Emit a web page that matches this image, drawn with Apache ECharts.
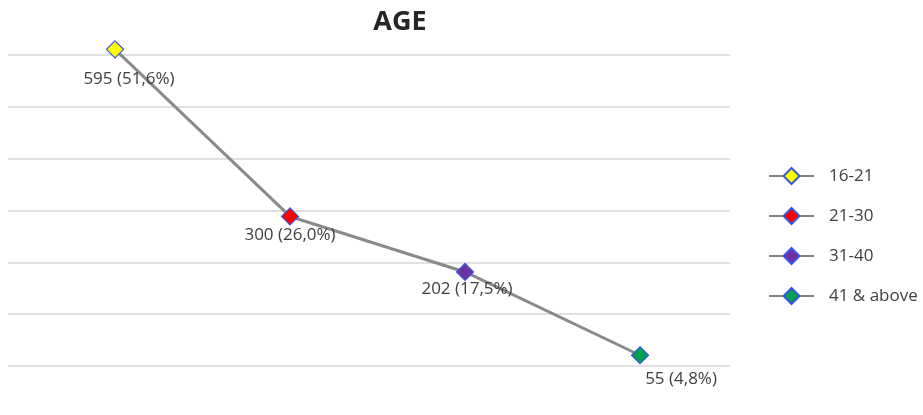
<!DOCTYPE html>
<html>
<head>
<meta charset="utf-8">
<script src="https://cdn.jsdelivr.net/npm/echarts@6/dist/echarts.min.js"></script>
<style>
html,body{margin:0;padding:0;background:#fff;}
#chart{width:923px;height:415px;}
</style>
</head>
<body>
<div id="chart"></div>
<script>
const categories = ['16-21', '21-30', '31-40', '41 & above'];
const counts = [595, 300, 202, 55];
const percents = ['51,6%', '26,0%', '17,5%', '4,8%'];
const markerColors = ['#ffff00', '#ff0000', '#7030a0', '#00a050'];
const labelOffsets = [[14, 30], [0, 19], [2, 17], [41, 24]];

const chart = echarts.init(document.getElementById('chart'));

const markerSeries = categories.map((name, i) => ({
  name: name,
  type: 'line',
  xAxisIndex: 0,
  yAxisIndex: 0,
  data: [[i, counts[i]]],
  symbol: 'diamond',
  symbolSize: 17,
  clip: false,
  z: 5,
  itemStyle: { color: markerColors[i], borderColor: '#3a56e0', borderWidth: 1.2 },
  lineStyle: { color: '#7f7f7f', width: 1.5 },
  label: {
    show: true,
    position: 'inside',
    offset: labelOffsets[i],
    formatter: () => counts[i] + ' (' + percents[i] + ')',
    color: '#404040',
    fontSize: 17,
    fontFamily: 'Open Sans'
  },
  emphasis: { disabled: true }
}));

chart.setOption({
  animation: false,
  title: {
    text: 'AGE',
    left: 395,
    top: 4,
    textAlign: 'center',
    textStyle: { fontSize: 27, fontWeight: 'bold', color: '#262626', fontFamily: 'Open Sans' }
  },
  legend: {
    orient: 'vertical',
    left: 763,
    top: 162,
    itemWidth: 45,
    itemHeight: 20,
    itemGap: 22,
    data: categories,
    textStyle: { fontSize: 17, color: '#404040', fontFamily: 'Open Sans', padding: [0, 0, 0, 10] }
  },
  grid: { left: 8, right: 193, top: 55, bottom: 49 },
  xAxis: {
    type: 'value',
    min: -0.6114,
    max: 3.514,
    show: false
  },
  yAxis: [
    { type: 'value', min: 36, max: 585, show: false, splitLine: { show: false } },
    {
      type: 'value', min: 0, max: 6, interval: 1,
      axisLine: { show: false }, axisTick: { show: false }, axisLabel: { show: false },
      splitLine: { show: true, lineStyle: { color: '#d6d6d6', width: 1.5 } }
    }
  ],
  series: [
    {
      name: 'AGE',
      type: 'line',
      data: counts.map((v, i) => [i, v]),
      symbol: 'none',
      clip: false,
      z: 3,
      lineStyle: { color: '#8a8a8a', width: 3 },
      emphasis: { disabled: true }
    }
  ].concat(markerSeries)
});
</script>
</body>
</html>
